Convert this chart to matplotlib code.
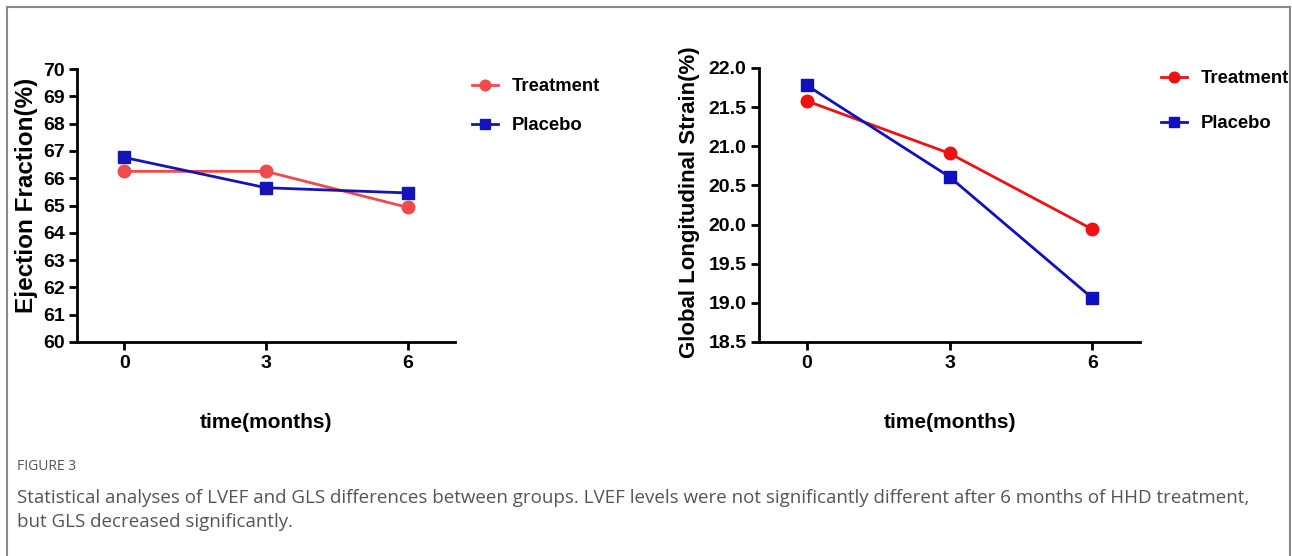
import matplotlib
matplotlib.use("Agg")
import matplotlib.pyplot as plt
from matplotlib.lines import Line2D

# data
months = [0, 3, 6]
ef_treatment = [66.25, 66.25, 64.93]
ef_placebo = [66.76, 65.65, 65.46]
gls_treatment = [21.58, 20.91, 19.94]
gls_placebo = [21.78, 20.61, 19.06]

ef_ticks = list(range(60, 71))
gls_ticks = [18.5, 19.0, 19.5, 20.0, 20.5, 21.0, 21.5, 22.0]

W, H = 1292, 556
fig = plt.figure(figsize=(W / 100, H / 100), dpi=100)
fig.patch.set_facecolor("white")

chart_font = "Liberation Sans"


def px_box(x0, y_top, x1, y_bot):
    return [x0 / W, 1 - y_bot / H, (x1 - x0) / W, (y_bot - y_top) / H]


def draw_panel(rect, tr, pl, ticks, ylabel, ylsize, ylpos, tr_color, pl_color, fmt, leg_xy, leg_space):
    ax = fig.add_axes(rect)
    ax.plot(months, tr, color=tr_color, marker="o", markersize=9, lw=2, label="Treatment", zorder=3)
    ax.plot(months, pl, color=pl_color, marker="s", markersize=9, lw=2, label="Placebo", zorder=3)
    ax.set_xlim(-1, 7)
    ax.set_ylim(ticks[0], ticks[-1])
    ax.set_xticks(months)
    ax.set_yticks(ticks)
    ax.set_yticklabels([fmt % t for t in ticks])
    for s in ["top", "right"]:
        ax.spines[s].set_visible(False)
    for s in ["left", "bottom"]:
        ax.spines[s].set_linewidth(2)
    ax.tick_params(direction="out", length=6, width=2, pad=3)
    for lab in ax.get_xticklabels() + ax.get_yticklabels():
        lab.set_fontfamily(chart_font)
        lab.set_fontweight("bold")
        lab.set_fontsize(14)
    ax.set_ylabel(ylabel, fontfamily=chart_font, fontweight="bold", fontsize=ylsize)
    ax.yaxis.set_label_coords(*ylpos)
    ax.set_xlabel("time(months)", fontfamily=chart_font, fontweight="bold", fontsize=15, labelpad=30)
    ax.patch.set_alpha(0)
    ax.legend(loc="upper left", bbox_to_anchor=(leg_xy[0] / W, 1 - leg_xy[1] / H),
              bbox_transform=fig.transFigure, frameon=False, handlelength=1.4,
              handletextpad=0.75, labelspacing=leg_space, borderaxespad=0, borderpad=0,
              markerscale=0.85,
              prop={"family": chart_font, "weight": "bold", "size": 13.3})
    return ax


draw_panel(px_box(77, 69, 455, 342), ef_treatment, ef_placebo, ef_ticks,
           "Ejection Fraction(%)", 17.5, (-0.103, 0.538),
           "#f04a4a", "#1414b8", "%d", (472, 78), 1.2)
draw_panel(px_box(759, 68, 1140, 342), gls_treatment, gls_placebo, gls_ticks,
           "Global Longitudinal Strain(%)", 16, (-0.155, 0.51),
           "#ee1111", "#1010c0", "%.1f", (1161, 70), 1.52)

# frame around the figure panel
frame_kw = dict(color="#8a8a8a", lw=1.5, transform=None)
for xs, ys in [([7, 7], [0, H - 7]), ([7, 1290], [H - 7, H - 7]), ([1290, 1290], [0, H - 7])]:
    fig.add_artist(Line2D(xs, ys, **frame_kw))

fig.text(17 / W, 1 - 467 / H, "FIGURE 3", fontfamily="Open Sans", fontsize=10,
         color="#555555", va="center", ha="left")
fig.text(17 / W, 1 - 498 / H,
         "Statistical analyses of LVEF and GLS differences between groups. LVEF levels were not "
         "significantly different after 6 months of HHD treatment,",
         fontfamily="Open Sans", fontsize=13.5, color="#555555", va="center", ha="left")
fig.text(17 / W, 1 - 522 / H, "but GLS decreased significantly.",
         fontfamily="Open Sans", fontsize=13.5, color="#555555", va="center", ha="left")

fig.savefig("out.png", dpi=100, facecolor="white")
